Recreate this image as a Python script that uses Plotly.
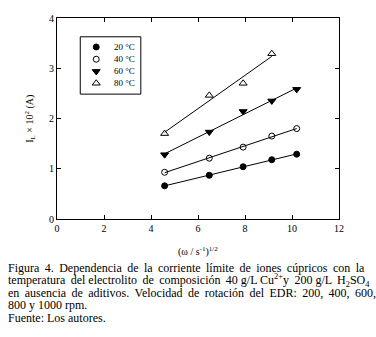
import numpy as np
import plotly.graph_objects as go

# { data
omega_sqrt = [4.58, 6.48, 7.92, 9.14, 10.2]
il_20 = [0.66, 0.87, 1.04, 1.18, 1.29]
il_40 = [0.93, 1.21, 1.43, 1.65, 1.80]
il_60 = [1.28, 1.73, 2.14, 2.35, 2.58]
omega_sqrt_80 = [4.58, 6.48, 7.92, 9.14]
il_80 = [1.70, 2.46, 2.70, 3.29]
labels = ['20 °C', '40 °C', '60 °C', '80 °C']
# }

# caption is justified in the original: widen the gaps with thin spaces
TS = ' \u2009'
caption = [
    'Figura 4. Dependencia de la corriente límite de iones cúpricos con la'.replace(' ', TS),
    'temperatura del electrolito de composición 40 g/L Cu<sup>2+</sup>y 200 g/L H<sub>2</sub>SO<sub>4</sub>'
    .replace('a d', 'a' + TS + 'd').replace('o d', 'o' + TS + 'd').replace('e c', 'e' + TS + 'c')
    .replace('n 4', 'n' + TS + '4').replace('y 2', 'y' + TS + '2').replace('L H', 'L' + TS + 'H'),
    'en ausencia de aditivos. Velocidad de rotación del EDR: 200, 400, 600,'.replace(' ', TS),
    '800 y 1000 rpm.',
    'Fuente: Los autores.',
]

W, H = 376, 337
L, R, T, B = 56.7, 339.3, 16, 219.3
FONT = 'Liberation Serif, Times New Roman, serif'


def px(x):  # pixel -> paper x
    return (x - L) / (R - L)


def py(y):  # pixel -> paper y
    return (B - y) / (B - T)


series = [
    (omega_sqrt, il_20, 'circle', 'black'),
    (omega_sqrt, il_40, 'circle-open', 'black'),
    (omega_sqrt, il_60, 'triangle-down', 'black'),
    (omega_sqrt_80, il_80, 'triangle-up-open', 'black'),
]

fig = go.Figure()

for xs, ys, sym, col in series:
    k, b = np.polyfit(xs, ys, 1)
    xl = [min(xs), max(xs)]
    fig.add_trace(go.Scatter(x=xl, y=[k * v + b for v in xl], mode='lines',
                             line=dict(color='black', width=1), showlegend=False))
    fig.add_trace(go.Scatter(x=xs, y=ys, mode='markers', showlegend=False,
                             marker=dict(symbol=sym, size=6 if 'circle' in sym else 7,
                                         color=col, line=dict(color='black', width=1))))

# { hand made legend (plotly legend rows are too tall)
leg_y = [45.3, 57.7, 70, 82]
for (xs, ys, sym, col), lab, yy in zip(series, labels, leg_y):
    fig.add_trace(go.Scatter(x=[96], y=[yy], xaxis='x2', yaxis='y2', mode='markers',
                             showlegend=False, cliponaxis=False,
                             marker=dict(symbol=sym, size=6 if 'circle' in sym else 7,
                                         color=col, line=dict(color='black', width=1))))
    fig.add_annotation(x=px(112), y=py(yy), xref='paper', yref='paper', text=lab,
                       showarrow=False, xanchor='left', yanchor='middle',
                       font=dict(family=FONT, size=9, color='black'))
fig.add_shape(type='rect', xref='paper', yref='paper', x0=px(80), x1=px(140.7),
              y0=py(93), y1=py(35), line=dict(color='black', width=1))
# }

for i, line in enumerate(caption):
    fig.add_annotation(x=px(6), y=py(268.8 + i * 12.6), xref='paper', yref='paper', text=line,
                       showarrow=False, xanchor='left', yanchor='middle',
                       font=dict(family=FONT, size=12, color='black'))

fig.add_annotation(x=0.5, y=py(252), xref='paper', yref='paper',
                   text='(ω / s<sup>-1</sup>)<sup>1/2</sup>', showarrow=False,
                   yanchor='middle', font=dict(family=FONT, size=10, color='black'))
fig.add_annotation(x=px(29), y=0.5, xref='paper', yref='paper', textangle=-90,
                   text='I<sub>L</sub> × 10<sup>2</sup> (A)', showarrow=False,
                   xanchor='center', yanchor='middle', font=dict(family=FONT, size=10, color='black'))

axis = dict(showline=True, linecolor='black', linewidth=1, mirror='ticks', ticks='inside',
            ticklen=4, tickcolor='black', showgrid=False, zeroline=False,
            tickfont=dict(family=FONT, size=10, color='black'))
fig.update_layout(
    width=W, height=H, margin=dict(l=L, r=W - R, t=T, b=H - B),
    plot_bgcolor='white', paper_bgcolor='white',
    xaxis=dict(range=[0, 12], dtick=2, **axis),
    yaxis=dict(range=[0, 4], dtick=1, **axis),
    xaxis2=dict(overlaying='x', range=[L, R], visible=False),
    yaxis2=dict(overlaying='y', range=[B, T], visible=False),
)

fig.write_html("out.html", config={'displayModeBar': False},
               post_script="document.body.style.margin='0';")
